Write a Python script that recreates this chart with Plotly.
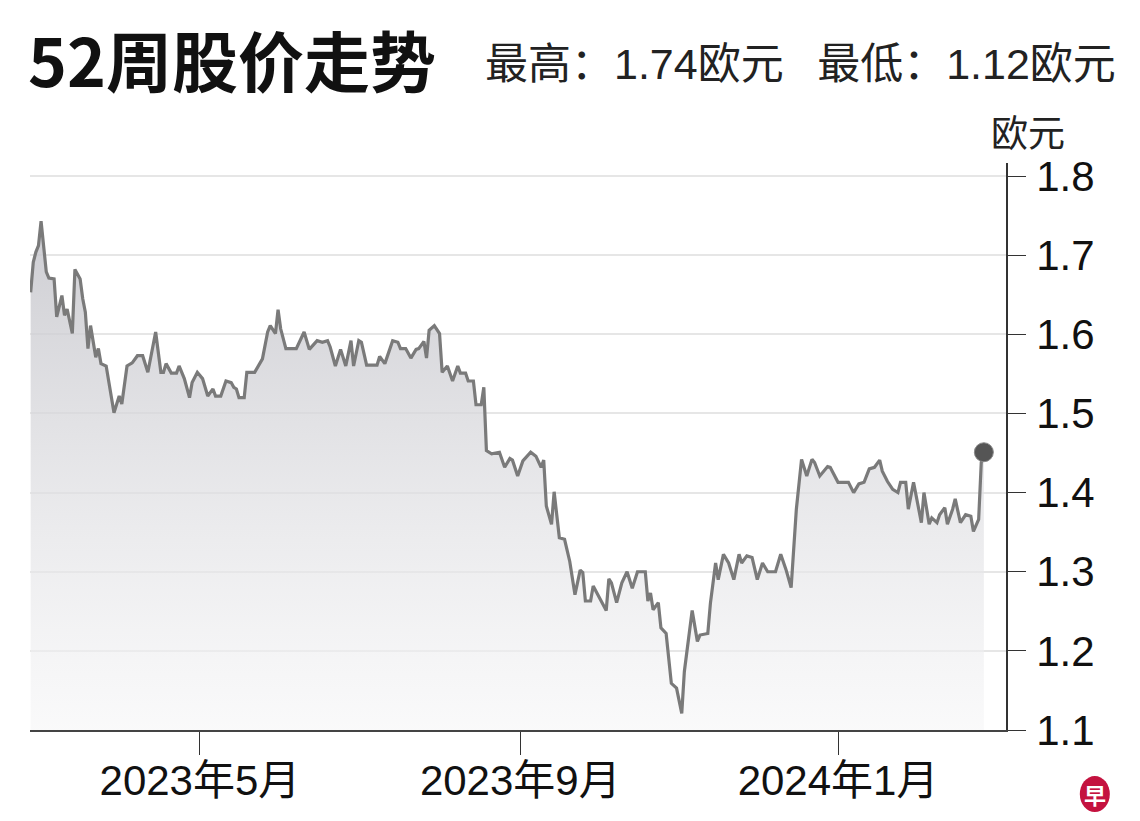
import pandas as pd
import plotly.graph_objects as go

# ---------------- data ----------------
start_date = "2023-02-25"
day_offsets = [0, 1, 2, 3, 4, 5, 6, 7, 9, 10, 12, 13, 14, 16, 17, 19, 20, 21, 22, 23, 25, 26, 27, 29,
               32, 34, 35, 37, 39, 41, 43, 45, 48, 50, 51, 52, 54, 56, 57, 59, 61, 62, 64, 66, 68, 70,
               71, 73, 75, 77, 78, 79, 80, 82, 83, 86, 89, 91, 92, 94, 95, 96, 98, 102, 105, 107, 110,
               112, 114, 115, 117, 119, 121, 123, 124, 126, 127, 129, 133, 134, 136, 139, 141, 142, 144,
               146, 148, 149, 151, 152, 153, 155, 157, 158, 160, 162, 164, 165, 167, 168, 170, 171, 173,
               174, 175, 177, 180, 182, 184, 185, 187, 189, 192, 194, 196, 197, 198, 200, 201, 203, 205,
               207, 209, 211, 212, 213, 215, 216, 219, 221, 222, 223, 225, 227, 229, 231, 233, 236, 237,
               238, 239, 241, 242, 244, 246, 248, 250, 251, 254, 256, 257, 260, 261, 263, 264, 266, 268,
               270, 272, 273, 275, 277, 279, 281, 283, 286, 288, 290, 292, 294, 296, 298, 300, 301, 303,
               306, 307, 310, 314, 316, 318, 320, 322, 324, 326, 327, 329, 331, 333, 334, 336, 337, 339,
               341, 342, 343, 345, 346, 348, 349, 351, 352, 354, 355, 357, 359, 361, 362, 364, 365, 366]
prices = [1.653, 1.691, 1.704, 1.712, 1.743, 1.712, 1.679, 1.671, 1.670, 1.622, 1.649, 1.624, 1.632,
          1.601, 1.682, 1.670, 1.645, 1.628, 1.582, 1.611, 1.571, 1.582, 1.563, 1.560, 1.501, 1.522,
          1.512, 1.560, 1.564, 1.573, 1.573, 1.552, 1.603, 1.552, 1.552, 1.563, 1.551, 1.551, 1.560,
          1.544, 1.520, 1.539, 1.552, 1.544, 1.522, 1.531, 1.522, 1.522, 1.541, 1.539, 1.533, 1.531,
          1.520, 1.520, 1.552, 1.552, 1.569, 1.603, 1.611, 1.601, 1.631, 1.607, 1.582, 1.582, 1.603,
          1.581, 1.592, 1.590, 1.592, 1.584, 1.560, 1.581, 1.560, 1.592, 1.560, 1.592, 1.590, 1.561,
          1.561, 1.572, 1.563, 1.592, 1.590, 1.582, 1.582, 1.570, 1.581, 1.582, 1.591, 1.570, 1.605,
          1.611, 1.601, 1.552, 1.560, 1.541, 1.560, 1.551, 1.551, 1.541, 1.541, 1.511, 1.511, 1.533,
          1.453, 1.449, 1.451, 1.432, 1.443, 1.441, 1.421, 1.440, 1.451, 1.446, 1.432, 1.441, 1.383,
          1.360, 1.401, 1.343, 1.341, 1.313, 1.271, 1.302, 1.299, 1.263, 1.263, 1.282, 1.263, 1.251,
          1.291, 1.286, 1.261, 1.286, 1.300, 1.279, 1.300, 1.300, 1.263, 1.273, 1.252, 1.261, 1.229,
          1.222, 1.159, 1.153, 1.121, 1.174, 1.251, 1.212, 1.220, 1.222, 1.260, 1.311, 1.290, 1.322,
          1.311, 1.290, 1.322, 1.311, 1.320, 1.318, 1.290, 1.311, 1.300, 1.300, 1.322, 1.303, 1.280,
          1.379, 1.442, 1.421, 1.442, 1.438, 1.421, 1.433, 1.432, 1.413, 1.413, 1.400, 1.411, 1.413,
          1.430, 1.432, 1.441, 1.427, 1.414, 1.404, 1.400, 1.413, 1.413, 1.379, 1.413, 1.379, 1.362,
          1.400, 1.360, 1.368, 1.362, 1.372, 1.381, 1.360, 1.379, 1.392, 1.362, 1.372, 1.370, 1.351,
          1.366, 1.438, 1.451]

x_tick_dates = ["2023-05-01", "2023-09-01", "2024-01-01"]
x_tick_labels = ["2023年5月", "2023年9月", "2024年1月"]
y_tick_values = [1.1, 1.2, 1.3, 1.4, 1.5, 1.6, 1.7, 1.8]
y_tick_labels = ["1.1", "1.2", "1.3", "1.4", "1.5", "1.6", "1.7", "1.8"]

title_text = "52周股价走势"
subtitle_text = "最高：1.74欧元\u2002 最低：1.12欧元"
unit_text = "欧元"
logo_text = "早"

dates = pd.Timestamp(start_date) + pd.to_timedelta(day_offsets, unit="D")

LAT = "'Liberation Sans', Arial, 'Noto Sans CJK SC', sans-serif"
CJK = "'Noto Sans CJK SC', 'Liberation Sans', sans-serif"

fig = go.Figure()
fig.add_trace(go.Scatter(
    x=dates, y=prices, mode="lines",
    line=dict(color="#7a7a7a", width=3.2),
    fill="tozeroy",
    fillgradient=dict(type="vertical", start=1.1, stop=1.75,
                      colorscale=[[0, "rgba(246,246,247,0.6)"], [1, "rgba(196,196,202,0.85)"]]),
    hoverinfo="skip", showlegend=False,
))
fig.add_trace(go.Scatter(
    x=[dates[-1]], y=[prices[-1]], mode="markers",
    marker=dict(color="#555555", size=19, line=dict(color="#8a8a8a", width=1)),
    hoverinfo="skip", showlegend=False,
))

fig.update_layout(
    width=1140, height=821,
    margin=dict(l=30, r=134, t=163, b=91),
    paper_bgcolor="white", plot_bgcolor="white",
    xaxis=dict(
        range=["2023-02-24 18:00", "2024-03-05 12:00"],
        tickmode="array", tickvals=x_tick_dates, ticktext=x_tick_labels,
        ticks="outside", ticklen=23, tickwidth=1.2, tickcolor="#333333",
        ticklabelstandoff=-10,
        showline=True, linecolor="#444444", linewidth=1.5,
        showgrid=False, zeroline=False,
        tickfont=dict(family=LAT, size=42, color="#111111"),
    ),
    yaxis=dict(
        side="right", range=[1.1, 1.8165],
        tickmode="array", tickvals=y_tick_values, ticktext=y_tick_labels,
        ticks="outside", ticklen=18, tickwidth=1.2, tickcolor="#333333",
        ticklabelstandoff=2,
        showline=True, linecolor="#333333", linewidth=1.5,
        showgrid=True, gridcolor="#e6e6e6", gridwidth=1.5,
        zeroline=False,
        tickfont=dict(family=LAT, size=42, color="#111111"),
    ),
)

fig.add_annotation(text=title_text, xref="paper", yref="paper", x=-0.004, y=1.185,
                   xanchor="left", yanchor="middle", showarrow=False,
                   font=dict(family=CJK, size=66, color="#111111", weight="bold"))
fig.add_annotation(text=subtitle_text, xref="paper", yref="paper", x=1.1148, y=1.175,
                   xanchor="right", yanchor="middle", showarrow=False,
                   font=dict(family=LAT, size=43, color="#222222"))
fig.add_annotation(text=unit_text, xref="paper", yref="paper", x=1.0225, y=1.056,
                   xanchor="center", yanchor="middle", showarrow=False,
                   font=dict(family=CJK, size=37, color="#222222"))

# logo
fig.add_shape(type="circle", xref="paper", yref="paper", xsizemode="pixel", ysizemode="pixel",
              xanchor=1.091, yanchor=-0.113, x0=-15, x1=15, y0=-18, y1=18,
              fillcolor="#c4123f", line=dict(width=0))
fig.add_annotation(text=logo_text, xref="paper", yref="paper", x=1.091, y=-0.113,
                   xanchor="center", yanchor="middle", showarrow=False,
                   font=dict(family=CJK, size=22, color="white", weight="bold"))

fig.write_html("out.html", config={"displayModeBar": False},
               post_script="document.body.style.margin='0';document.body.style.overflow='hidden';")
